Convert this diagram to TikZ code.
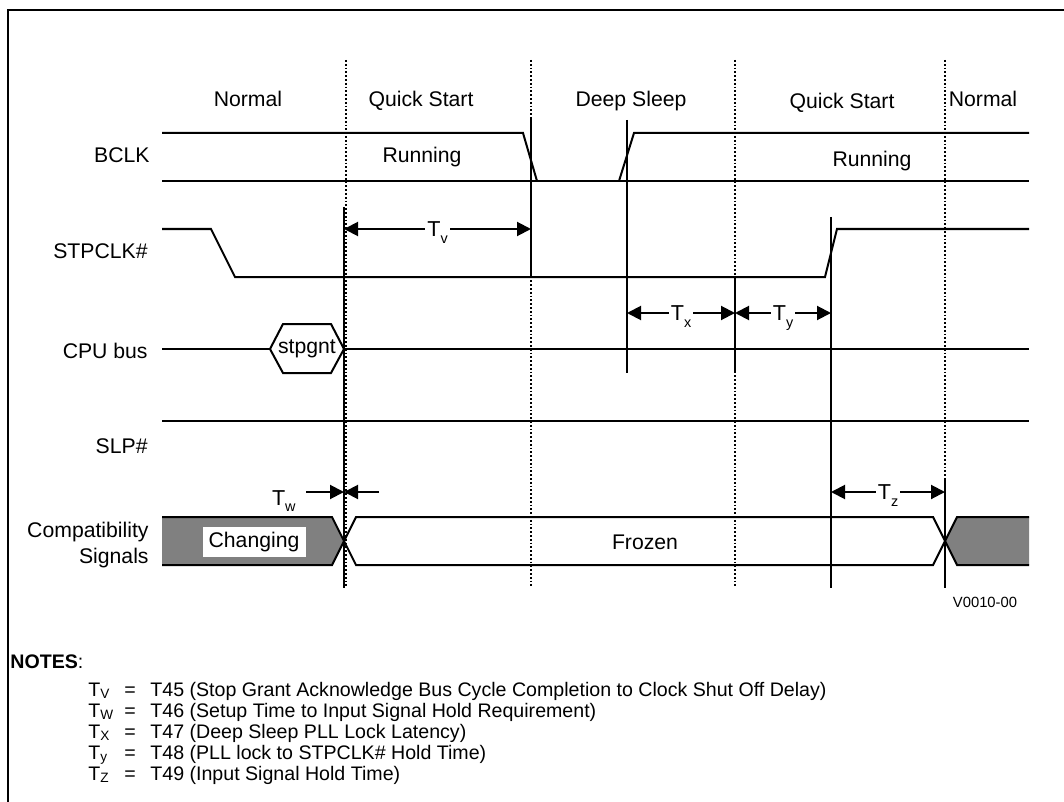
\documentclass[tikz,border=0pt]{standalone}
\usepackage{fontspec}
\setmainfont{Liberation Sans}
\usetikzlibrary{arrows.meta,positioning,calc}

\newcommand{\tsig}[1]{T\raisebox{-3.4pt}{\fontsize{7.2}{8}\selectfont #1}}
\newcommand{\tnote}[1]{T\raisebox{-1pt}{\fontsize{6.8}{8}\selectfont #1}}

\tikzset{
  frameline/.style={line width=1pt},
  sigline/.style={line width=1pt, line join=miter},
  sigfill/.style={fill=black!50},
  markline/.style={line width=1pt},
  phaseline/.style={densely dotted, line width=0.9pt},
  timearrow/.style={{Triangle[length=7pt,width=7pt]}-{Triangle[length=7pt,width=7pt]}, line width=1pt},
  halfarrow/.style={-{Triangle[length=7pt,width=7pt]}, line width=1pt},
  timelabel/.style={fill=white, inner sep=1pt, anchor=base, yshift=-3.7pt, font=\fontsize{10.8}{12}\selectfont},
  sidelabel/.style={inner sep=1pt, anchor=base east, font=\fontsize{10.8}{12}\selectfont},
  rowlabel/.style={anchor=base east, font=\fontsize{10.6}{13}\selectfont, inner sep=0pt},
  phaselabel/.style={anchor=base, font=\fontsize{10.6}{12}\selectfont, inner sep=0pt},
  statelabel/.style={anchor=base, font=\fontsize{10.6}{12}\selectfont, inner sep=0pt},
  changebox/.style={fill=white, minimum width=51.5pt, minimum height=15pt, inner sep=0pt, font=\fontsize{10.6}{12}\selectfont},
  notetext/.style={anchor=base west, font=\fontsize{9.8}{11}\selectfont, inner sep=0pt},
}

\begin{document}
\begin{tikzpicture}[x=0.5pt, y=-0.5pt]
  \useasboundingbox (0,0) rectangle (1064,802);

  % Frame
  \draw[frameline] (8,802) -- (8,10) -- (1064,10);

  % Phase boundaries and names
  \foreach \x in {346,531,735,945}
    \draw[phaseline] (\x,60) -- (\x,588);
  \node[phaselabel] (ph1) at (248,107) {Normal};
  \node[phaselabel] (ph2) at (421,107) {Quick Start};
  \node[phaselabel] (ph3) at (631,107) {Deep Sleep};
  \node[phaselabel] (ph4) at (842,109) {Quick Start};
  \node[phaselabel] (ph5) at (983,107) {Normal};

  % Signal names
  \node[rowlabel] (bclk) at (150,163) {BCLK};
  \node[rowlabel] (stpclk) at (148,258) {STPCLK\#};
  \node[rowlabel] (cpubus) at (148,358) {CPU bus};
  \node[rowlabel] (slp) at (148,453) {SLP\#};
  \node[rowlabel, anchor=east, align=right] (compat) at (149,545) {Compatibility\\Signals};

  % BCLK
  \draw[sigline] (162,133) -- (523,133) -- (537,181);
  \draw[sigline] (619,181) -- (634,133) -- (1029,133);
  \draw[sigline] (162,181) -- (1029,181);
  \node[statelabel] (run1) at (422,163) {Running};
  \node[statelabel] (run2) at (872,167) {Running};

  % STPCLK#
  \draw[sigline] (162,229) -- (211,229) -- (235,277) -- (825,277) -- (837,229) -- (1029,229);

  % CPU bus
  \draw[sigline] (162,349) -- (270,349);
  \draw[sigline] (270,349) -- (283,324) -- (331,324) -- (344,349)
    -- (331,373) -- (283,373) -- cycle;
  \draw[sigline] (344,349) -- (1029,349);
  \node[statelabel, anchor=center] (stpgnt) at (307,349) {stpgnt};

  % SLP#
  \draw[sigline] (162,421) -- (1029,421);

  % Compatibility signals
  \fill[sigfill] (162,517) -- (332,517) -- (344,541) -- (332,565) -- (162,565) -- cycle;
  \fill[sigfill] (945,541) -- (957,517) -- (1029,517) -- (1029,565) -- (957,565) -- cycle;
  \draw[sigline] (162,517) -- (332,517) -- (356,565) -- (933,565) -- (957,517) -- (1029,517);
  \draw[sigline] (162,565) -- (332,565) -- (356,517) -- (933,517) -- (957,565) -- (1029,565);
  \node[changebox] (chg) at (254,542) {Changing};
  \node[statelabel] (frozen) at (645,549) {Frozen};

  % Timing reference lines
  \draw[markline] (344,207) -- (344,588);
  \draw[markline] (531,118) -- (531,277);
  \draw[markline] (627,120) -- (627,373);
  \draw[markline] (735,277) -- (735,373);
  \draw[markline] (831,217) -- (831,588);
  \draw[markline] (945,480) -- (945,588);

  % Timing arrows
  \coordinate (tv_a) at (344,229);
  \coordinate (tv_b) at (531,229);
  \draw[timearrow] (tv_a) -- node[timelabel] (tv) {\tsig{v}} (tv_b);

  \coordinate (tx_a) at (627,313);
  \coordinate (tx_b) at (735,313);
  \coordinate (ty_b) at (831,313);
  \draw[timearrow] (tx_a) -- node[timelabel] (tx) {\tsig{x}} (tx_b);
  \draw[timearrow] (tx_b) -- node[timelabel] (ty) {\tsig{y}} (ty_b);

  \coordinate (tw_l) at (306,492);
  \coordinate (tw_m) at (344,492);
  \coordinate (tw_r) at (379,492);
  \draw[halfarrow] (tw_l) -- (tw_m);
  \draw[halfarrow] (tw_r) -- (tw_m);
  \node[sidelabel] (tw) at (298,505) {\tsig{w}};

  \coordinate (tz_a) at (831,492);
  \coordinate (tz_b) at (945,492);
  \draw[timearrow] (tz_a) -- node[timelabel, inner ysep=2pt] (tz) {\tsig{z}} (tz_b);

  % Drawing number
  \node[statelabel, font=\fontsize{7.4}{9}\selectfont] (vid) at (985,607) {V0010-00};

  % Notes
  \node[notetext, font=\fontsize{9.8}{11}\selectfont] (notes) at (10,668) {\textbf{NOTES}:};
  \foreach \s/\txt [count=\i] in {
      V/{T45 (Stop Grant Acknowledge Bus Cycle Completion to Clock Shut Off Delay)},
      W/{T46 (Setup Time to Input Signal Hold Requirement)},
      X/{T47 (Deep Sleep PLL Lock Latency)},
      y/{T48 (PLL lock to STPCLK\# Hold Time)},
      Z/{T49 (Input Signal Hold Time)}} {
    \node[notetext] (tn\i) at (88,675+21*\i) {\tnote{\s}};
    \node[notetext] (eq\i) at (124,675+21*\i) {=};
    \node[notetext] (nt\i) at (150,675+21*\i) {\txt};
  }
\end{tikzpicture}
\end{document}
